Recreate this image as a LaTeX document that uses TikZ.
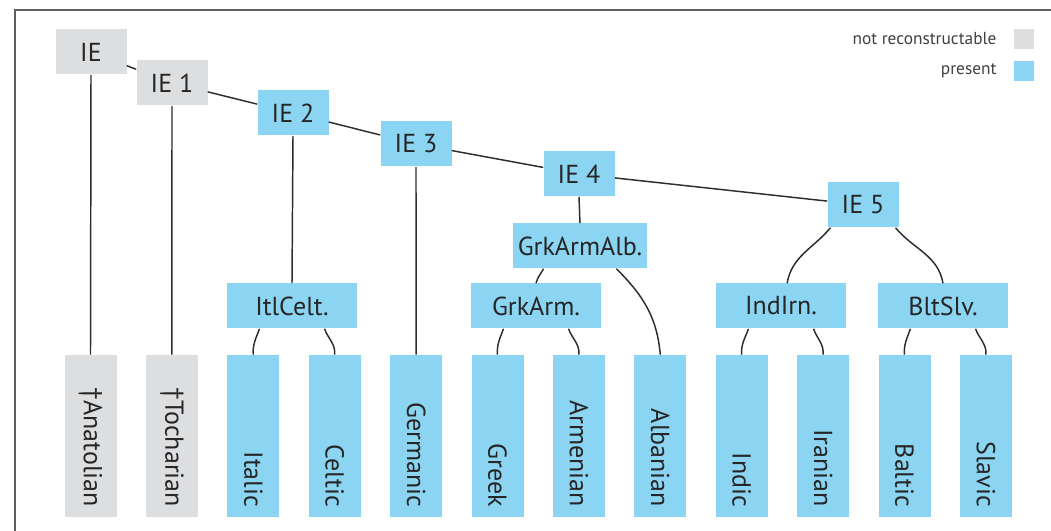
\documentclass[tikz,border=0pt]{standalone}
\usepackage{fontspec}
\setmainfont{PT Sans}
\usetikzlibrary{positioning}
\definecolor{lostgray}{RGB}{221,222,224}
\definecolor{presentblue}{RGB}{139,212,242}
\definecolor{branchline}{RGB}{45,45,45}
\definecolor{framegray}{RGB}{95,95,95}

\begin{document}
\begin{tikzpicture}[x=0.75pt,y=0.75pt,
    box/.style={inner sep=0pt, text=black!85, font=\fontsize{19.5}{22}\selectfont},
    proto/.style={box, minimum width=53.25pt, minimum height=33.75pt},
    group/.style={box, minimum width=97.5pt, minimum height=33.75pt},
    leaf/.style={box, rotate=-90, minimum height=39pt, text width=106.5pt, align=right, inner xsep=7.5pt},
    lost/.style={fill=lostgray},
    present/.style={fill=presentblue},
    branch/.style={draw=branchline, line width=1.1pt},
    legendtext/.style={inner sep=0pt, text=black!75, font=\fontsize{13}{15}\selectfont}]
        \newcommand{\iefamleafx}{90.5}
        \newcommand{\iefamleafstep}{81.4}
        \newcommand{\iefamleafy}{-436}
        \newcommand{\iefamgroupy}{-306}
        \useasboundingbox (0,0) rectangle (1051,-531);
        \draw[framegray, line width=1.5pt] (15,-531) -- (15,-10) -- (1051,-10);
        % legend
        \node[fill=lostgray, minimum size=15pt, inner sep=0pt] (notrecbox) at (1024,-39) {};
        \node[fill=presentblue, minimum size=15pt, inner sep=0pt] (presentbox) at (1024,-71) {};
        \node[legendtext, left=12.75pt of notrecbox] (notrectext) {not reconstructable};
        \node[legendtext, left=12.75pt of presentbox] (presenttext) {present};
        % proto languages
        \node[proto,lost] (ie) at (91,-52) {IE};
        \node[proto,lost] (ie1) at (172,-83) {IE 1};
        \node[proto,present] (ie2) at (293,-113) {IE 2};
        \node[proto,present] (ie3) at (416,-144) {IE 3};
        \node[proto,present] (ie4) at (579,-174) {IE 4};
        \node[proto,present] (ie5) at (863,-205) {IE 5};
        \node[group,present,minimum width=100.5pt] (grkarmalb) at (580,-246) {GrkArmAlb.};
        \node[group,present] (itlcelt) at (292,\iefamgroupy) {ItlCelt.};
        \node[group,present] (grkarm) at (536,\iefamgroupy) {GrkArm.};
        \node[group,present] (indirn) at (781,\iefamgroupy) {IndIrn.};
        \node[group,present] (bltslv) at (943,\iefamgroupy) {BltSlv.};
        % branches
        \node[leaf,lost] (anatolian) at (\iefamleafx,\iefamleafy) {†Anatolian};
        \node[leaf,lost] (tocharian) at (\iefamleafx+\iefamleafstep,\iefamleafy) {†Tocharian};
        \node[leaf,present] (italic) at (\iefamleafx+2*\iefamleafstep,\iefamleafy) {Italic};
        \node[leaf,present] (celtic) at (\iefamleafx+3*\iefamleafstep,\iefamleafy) {Celtic};
        \node[leaf,present] (germanic) at (\iefamleafx+4*\iefamleafstep,\iefamleafy) {Germanic};
        \node[leaf,present] (greek) at (\iefamleafx+5*\iefamleafstep,\iefamleafy) {Greek};
        \node[leaf,present] (armenian) at (\iefamleafx+6*\iefamleafstep,\iefamleafy) {Armenian};
        \node[leaf,present] (albanian) at (\iefamleafx+7*\iefamleafstep,\iefamleafy) {Albanian};
        \node[leaf,present] (indic) at (\iefamleafx+8*\iefamleafstep,\iefamleafy) {Indic};
        \node[leaf,present] (iranian) at (\iefamleafx+9*\iefamleafstep,\iefamleafy) {Iranian};
        \node[leaf,present] (baltic) at (\iefamleafx+10*\iefamleafstep,\iefamleafy) {Baltic};
        \node[leaf,present] (slavic) at (\iefamleafx+11*\iefamleafstep,\iefamleafy) {Slavic};
        % lines
        \draw[branch] (ie) -- (ie1) -- (ie2) -- (ie3) -- (ie4) -- (ie5);
        \draw[branch] (ie.south) -- (anatolian.west);
        \draw[branch] (ie1.south) -- (tocharian.west);
        \draw[branch] (ie2.south) -- (itlcelt.north);
        \draw[branch] (ie3.south) -- (germanic.west);
        \draw[branch] (ie4.south) -- (grkarmalb.north);
        \draw[branch] (ie5.215) to[out=230,in=80] (indirn.75);
        \draw[branch] (ie5.325) to[out=310,in=100] (bltslv.north);
        \draw[branch] (grkarmalb.212) to[out=240,in=75] (grkarm.north);
        \draw[branch] (grkarmalb.328) to[out=315,in=95] (albanian.west);
        \draw[branch] (itlcelt.215) to[out=250,in=95] (italic.west);
        \draw[branch] (itlcelt.325) to[out=290,in=85] (celtic.west);
        \draw[branch] (grkarm.215) to[out=250,in=95] (greek.west);
        \draw[branch] (grkarm.325) to[out=290,in=85] (armenian.west);
        \draw[branch] (indirn.215) to[out=250,in=95] (indic.west);
        \draw[branch] (indirn.325) to[out=290,in=85] (iranian.west);
        \draw[branch] (bltslv.215) to[out=250,in=95] (baltic.west);
        \draw[branch] (bltslv.325) to[out=290,in=85] (slavic.west);
\end{tikzpicture}
\end{document}
